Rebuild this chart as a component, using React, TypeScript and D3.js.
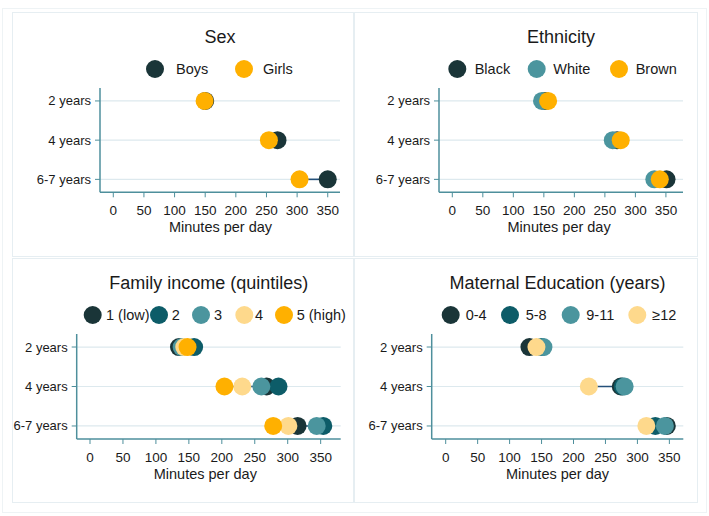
import React from "react";
import * as d3 from "d3";

const rows = ["2 years", "4 years", "6-7 years"];
const xTicks = [0, 50, 100, 150, 200, 250, 300, 350];

// Sex
const sexLabels = ["Boys", "Girls"];
const sexBoys = [150, 268, 350];
const sexGirls = [149, 254, 304];

// Ethnicity
const ethLabels = ["Black", "White", "Brown"];
const ethBlack = [152, 270, 351];
const ethWhite = [147, 263, 331];
const ethBrown = [157, 276, 340];

// Family income (quintiles)
const incLabels = ["1 (low)", "2", "3", "4", "5 (high)"];
const incQ1 = [135, 268, 315];
const incQ2 = [158, 286, 354];
const incQ3 = [139, 260, 344];
const incQ4 = [143, 231, 301];
const incQ5 = [148, 204, 278];

// Maternal education (years)
const eduLabels = ["0-4", "5-8", "9-11", "≥12"];
const edu04 = [131, 274, 346];
const edu58 = [150, 277, 328];
const edu911 = [153, 280, 343];
const edu12 = [142, 224, 314];

const C_DARK = "#1a3538";
const C_DTEAL = "#0d5c68";
const C_TEAL = "#4b959e";
const C_LYEL = "#fed98c";
const C_ORANGE = "#ffb000";

const FONT = "'Liberation Sans', Arial, Helvetica, sans-serif";

const panels = [
  {
    title: "Sex",
    labels: sexLabels,
    series: [sexBoys, sexGirls],
    colors: [C_DARK, C_ORANGE],
    left: 100, right: 340, top: 88, bottom: 192.3, xMin: -21.7, xMax: 370,
    legCx: [155, 244], legTx: [176, 263],
  },
  {
    title: "Ethnicity",
    labels: ethLabels,
    series: [ethBlack, ethWhite, ethBrown],
    colors: [C_DARK, C_TEAL, C_ORANGE],
    left: 439, right: 683, top: 88, bottom: 192.3, xMin: -21.8, xMax: 378,
    legCx: [457.3, 536.7, 619], legTx: [474.7, 553.3, 635.7],
  },
  {
    title: "Family income (quintiles)",
    labels: incLabels,
    series: [incQ1, incQ2, incQ3, incQ4, incQ5],
    colors: [C_DARK, C_DTEAL, C_TEAL, C_LYEL, C_ORANGE],
    left: 76.7, right: 340.7, top: 334, bottom: 439, xMin: -20.2, xMax: 380.4,
    legCx: [92.7, 159, 201, 244.3, 284], legTx: [106, 171.7, 214, 255, 296.7],
  },
  {
    title: "Maternal Education (years)",
    labels: eduLabels,
    series: [edu04, edu58, edu911, edu12],
    colors: [C_DARK, C_DTEAL, C_TEAL, C_LYEL],
    left: 431.7, right: 683.3, top: 334, bottom: 439, xMin: -21.9, xMax: 371.8,
    legCx: [450.7, 510, 570.7, 637.3], legTx: [465.7, 525.7, 586.3, 652.3],
  },
];

const R = 9;
const AXIS = "#4e8f9c";
const GRID = "#dde9ee";
const TXT = "#1a1a1a";

function Panel({ p }: { p: any }) {
  const x = d3.scaleLinear().domain([p.xMin, p.xMax]).range([p.left, p.right]);
  const y = d3.scalePoint<string>().domain(rows).range([p.top, p.bottom]).padding(0.33);
  const cx = (p.left + p.right) / 2;
  return (
    <g fontFamily={FONT} fill={TXT}>
      <text x={cx} y={p.top - 45.5} textAnchor="middle" fontSize={18}>{p.title}</text>
      {p.labels.map((l: string, i: number) => (
        <g key={l}>
          <circle cx={p.legCx[i]} cy={p.top - 19} r={R} fill={p.colors[i]} />
          <text x={p.legTx[i]} y={p.top - 14} fontSize={14.5}>{l}</text>
        </g>
      ))}
      {rows.map((r) => (
        <line key={r} x1={p.left} x2={p.right} y1={y(r)} y2={y(r)} stroke={GRID} strokeWidth={1.2} />
      ))}
      <line x1={p.left} x2={p.left} y1={p.top} y2={p.bottom} stroke={AXIS} strokeWidth={1.5} />
      <line x1={p.left} x2={p.right} y1={p.bottom} y2={p.bottom} stroke={AXIS} strokeWidth={1.5} />
      {rows.map((r) => (
        <g key={r}>
          <line x1={p.left - 5} x2={p.left} y1={y(r)} y2={y(r)} stroke={AXIS} strokeWidth={1} />
          <text x={p.left - 9} y={(y(r) as number) + 4.5} textAnchor="end" fontSize={13}>{r}</text>
        </g>
      ))}
      {xTicks.map((t) => (
        <g key={t}>
          <line x1={x(t)} x2={x(t)} y1={p.bottom} y2={p.bottom + 5} stroke={AXIS} strokeWidth={1} />
          <text x={x(t)} y={p.bottom + 22.5} textAnchor="middle" fontSize={13.5}>{t}</text>
        </g>
      ))}
      <text x={x(175)} y={p.bottom + 40} textAnchor="middle" fontSize={14.5}>Minutes per day</text>
      {rows.map((r, ri) => {
        const vals = p.series.map((s: number[]) => s[ri]);
        return (
          <line key={r} x1={x(d3.min(vals) as number)} x2={x(d3.max(vals) as number)}
            y1={y(r)} y2={y(r)} stroke="#24507a" strokeWidth={1.6} />
        );
      })}
      {p.series.map((s: number[], si: number) => (
        <g key={si}>
          {s.map((v, ri) => (
            <circle key={ri} cx={x(v)} cy={y(rows[ri])} r={R} fill={p.colors[si]} />
          ))}
        </g>
      ))}
    </g>
  );
}

export default function App() {
  return (
    <svg width={709} height={516} style={{ position: "absolute", left: 0, top: 0, background: "#fff" }}>
      <rect x={0} y={0} width={709} height={516} fill="#fff" />
      <rect x={2.5} y={8.5} width={704} height={504} fill="none" stroke="#eef3f5" />
      <rect x={12.5} y={12.5} width={341} height={244} fill="none" stroke="#e6eef2" />
      <rect x={354.5} y={12.5} width={343} height={244} fill="none" stroke="#e6eef2" />
      <rect x={12.5} y={258.5} width={341} height={244} fill="none" stroke="#e6eef2" />
      <rect x={354.5} y={258.5} width={343} height={244} fill="none" stroke="#e6eef2" />
      {panels.map((p) => (
        <Panel key={p.title} p={p} />
      ))}
    </svg>
  );
}
